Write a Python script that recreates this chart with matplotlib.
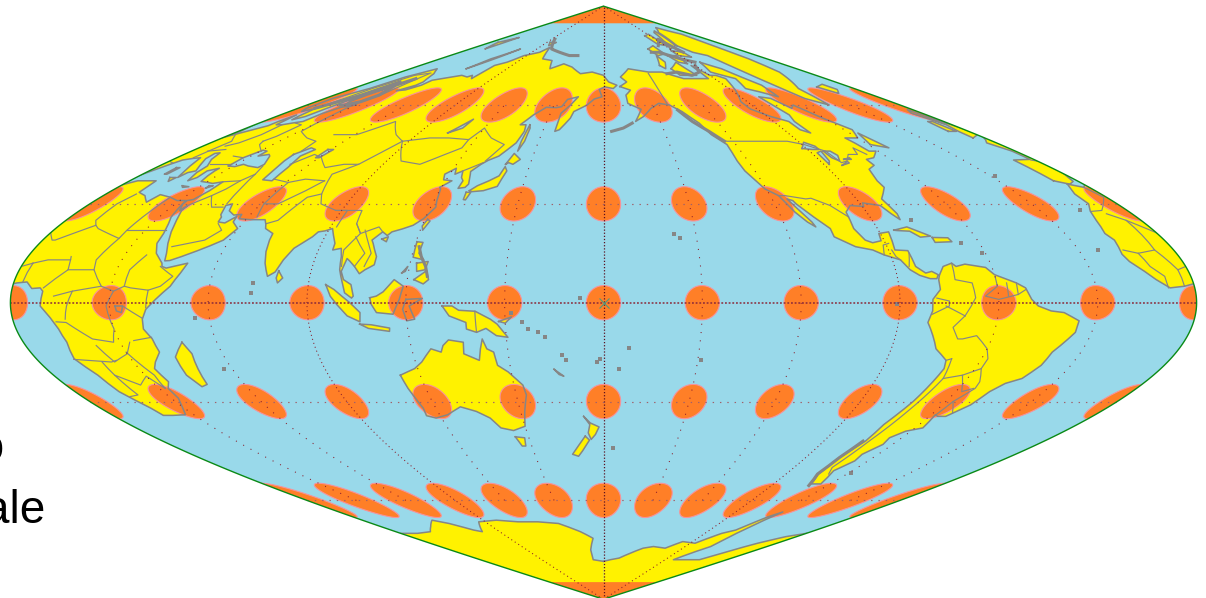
import numpy as np
import matplotlib
matplotlib.use("Agg")
import matplotlib.pyplot as plt
from matplotlib.patches import Polygon

# ---- land outlines, (lon, lat) in degrees ----
AFRICA = [(-6,36),(-2,35),(3,37),(10,37),(11,33.5),(15,32.5),(19,30.5),(20,32.8),(25,32),(29,31),(32.3,31),(32.5,30),(34,26),(35.5,24),(37,21),(37.5,18),(39.5,15),(43,12),(43.5,11),(45,10.5),(51,12),(50,9),(48,5),(44,1),(41,-2),(39.5,-5),(39,-8),(40.5,-11),(40.5,-15),(37,-18),(35,-20),(35.5,-24),(33,-26),(32.5,-29),(30,-31.5),(27,-34),(22,-34.2),(18.5,-34.2),(18,-32),(15,-27),(14.5,-22),(12,-17),(13.5,-12),(13,-8),(11.5,-4.5),(9,-1),(9.5,3.5),(8.5,4.5),(6,4.3),(4,6.3),(1,6),(-3,5),(-7.5,4.5),(-11,7),(-13.5,9.5),(-16.5,12.5),(-17.3,14.7),(-16,19),(-17,21),(-15,25),(-13,27.8),(-10,30),(-9.5,33)]
EURASIA = [(-9,37),(-6,36.2),(-5,36),(-2,36.8),(0,39),(3,42),(4.5,43.3),(7.5,43.8),(10,44),(12.5,41.5),(16,38),(16.5,39.5),(18.5,40),(16,41.7),(13,43.7),(12.3,45.3),(14,45.5),(16,43.5),(19.5,41.5),(20,39.5),(22,37),(23.5,38),(23,40),(26,40.8),(26,40),(26.5,38.5),(27.5,36.8),(30.5,36.5),(33,36.2),(36,36.7),(35.8,34),(34.3,31.3),(32.6,31),(32.6,30),(34.3,28),(35,29.5),(35,28),(37,25),(39,21.5),(41,18),(42.7,15),(43.5,12.7),(45,12.8),(48,14),(52,15.8),(55,17.3),(58,19),(59.8,22.5),(56.5,24.5),(56,26.2),(54,24.2),(51.5,24.5),(51,26),(50,26.7),(48.3,29.5),(50,30),(51.5,27.9),(54.5,26.6),(57,26.8),(57.5,25.5),(61.5,25.2),(66.5,25.2),(68,23.8),(69,22.5),(72.5,21),(72.8,19),(73.7,15.5),(75,12),(77,8),(79,9.3),(80.3,13),(82,16.5),(86,20),(87,21.5),(89,21.8),(91,22.5),(92.5,20.5),(94.3,18),(94.5,16),(97,16.5),(98,14),(98.7,10),(100.3,6),(101.3,3),(103.5,1.4),(104,2),(103,5.5),(100.5,7),(99.3,9.5),(100,13.4),(101,12.7),(103,11),(105,8.8),(106.5,10),(109,11.5),(109,14),(106.5,18),(105.7,19),(108,21.5),(110,20.4),(111,21.5),(114,22.4),(117,23.5),(119.5,25.5),(121.8,29),(121,31),(120,34.5),(119.3,35),(122.4,37),(119,37.3),(118,39),(121,40.8),(122,39),(124.3,40),(125.3,38),(126.6,37),(126.3,34.7),(128.7,35),(129.4,36),(128,39),(127.5,39.8),(130,42),(132,43.2),(135.5,44.5),(140,48.5),(141,52),(140,54),(137,54),(141,57),(146,59.3),(152,59.2),(155,59.5),(157,61.7),(163.5,62.5),(160,60),(156,57.5),(156,52),(158,52.5),(162,56),(163,58),(170,60),(174,61.8),(179,62.5),(177,64.7),(181,65.5),(187,65),(190,66),(184,67),(180,69),(170,70),(160,69.5),(150,71.5),(140,72.5),(130,71),(125,73.5),(113,74),(105,77.5),(100,76),(87,75),(80,73),(73,72),(73,68),(69,69),(67,68.5),(60,69),(54,68.5),(44,67.5),(44,66),(40,64.6),(35,64.3),(40,66),(40,67),(33,69.5),(25,71),(16,68.5),(12,65),(5,62),(5,59),(7,58),(10.5,59),(12,56.5),(13,55.5),(16,56.5),(17,59),(18,61),(21,64),(25,65.5),(22,63),(21,61),(23,60),(28,60.5),(30,60),(24,59.3),(21.5,57.5),(21,55),(18.5,54.7),(14,54),(11,54),(9,57),(8,55),(8,53.7),(4,52),(1.5,50.8),(-1.5,49.5),(-4.5,48.5),(-1.5,46),(-1.5,43.5),(-9,43.3)]
NORTH_AMERICA = [(-168,65.6),(-162,67),(-166,68.5),(-157,71),(-140,70),(-128,70),(-115,68),(-108,68),(-95,68),(-94,72),(-90,69),(-85,69),(-81,68),(-87,64.5),(-94,61),(-94,58.8),(-88,56.5),(-82,55),(-82,52.5),(-79,51.5),(-79,55),(-76.5,57),(-78,62.5),(-72,62),(-69,59),(-65,60),(-61,56),(-56,52.5),(-60,50),(-66,50),(-65,48.5),(-64,46),(-61,46),(-66,44),(-70,43.5),(-70,41.7),(-74,40.5),(-76,37),(-76,35),(-81,31.5),(-80,27),(-80.5,25.2),(-82,27),(-83.5,29.5),(-85,29.7),(-89,30.3),(-89.5,29.2),(-94,29.5),(-97,27.5),(-97.8,22.5),(-96,19),(-94,18.2),(-91,18.8),(-90.5,21),(-87,21.5),(-88,16),(-84,15.8),(-83.5,11),(-81,9),(-79,9.5),(-77.3,8.5),(-78,7.3),(-80,7.3),(-83,8.3),(-85.5,10),(-87.5,13),(-92,14.5),(-95,16),(-100,17),(-105.5,20),(-105.5,22.5),(-109,26),(-112.5,30),(-113,31),(-114.7,31.5),(-113,28.5),(-110.5,24.5),(-110,23),(-112,24.5),(-114.5,27.5),(-116,30.5),(-117,32.5),(-120.5,34.5),(-124,40),(-124.5,43),(-124,48),(-128,51),(-130,54.5),(-135,58),(-140,60),(-146,60.5),(-152,59),(-158,56.5),(-163,55),(-158,58.7),(-165,60.5),(-165,63),(-161,64.5)]
SOUTH_AMERICA = [(-77,8.3),(-75,11),(-72,12),(-71,11),(-68,11.7),(-62,10.7),(-60,8.5),(-54,6),(-51.5,4.5),(-50,1),(-48,-1),(-44,-2.5),(-40,-3),(-35,-5.5),(-35,-9),(-39,-15),(-39.5,-19),(-42,-23),(-46,-24.5),(-48.5,-27),(-50,-31),(-54,-34.5),(-57,-34.5),(-58.5,-34),(-57,-38),(-62,-39),(-65,-41),(-64,-43),(-67,-46),(-66,-48),(-69,-51),(-65,-55),(-70,-55),(-74,-52),(-75,-47),(-73,-42),(-73.5,-37),(-71.5,-30),(-70,-20),(-71,-17.5),(-76,-14),(-81,-6),(-80,-2.5),(-80,1),(-77.5,4),(-77.5,7)]
AUSTRALIA = [(113.5,-22),(114,-26),(115.5,-32),(115,-34.3),(118,-35),(123,-34),(129,-31.6),(134,-33),(138,-35),(140.5,-38),(145,-38.8),(150,-37.5),(151.5,-33),(153.5,-28),(153,-25),(149,-21),(146,-19),(145.5,-15),(143.5,-14),(142.5,-11),(141.5,-14),(140.5,-17.5),(136,-15.5),(136.5,-12),(132,-11.3),(130,-13),(129,-15),(126,-14),(122,-18),(119,-20)]
ISLANDS = [
    [(172.7,-34.5),(175,-36.5),(178.3,-37.7),(176.8,-40),(175,-41.5),(174,-39.5),(174.8,-37)],
    [(172.7,-40.5),(174.3,-41.7),(171,-45),(169,-46.6),(166.5,-46),(170,-43)],
    [(144.7,-40.7),(148.3,-41),(147.5,-43.5),(146,-43.5)],
    [(131,-1),(134,-1),(136,-2.3),(141,-2.6),(145.5,-5),(147.5,-6.5),(150.5,-10.5),(147,-10),(144,-7.8),(141,-9),(138,-8),(138,-6),(133,-4)],
    [(109,1.5),(111,2),(113,3.3),(116,7),(119,5),(118,1),(116,-3.5),(111,-3),(109.5,-0.5)],
    [(95.3,5.5),(98,4),(103,0),(106,-3),(105.7,-5.8),(102,-4),(99,-0.5),(97,2)],
    [(105.5,-6.5),(109,-6.7),(114.5,-7.7),(114.3,-8.7),(108,-7.8)],
    [(120,1),(125,1.3),(121,-1),(122.5,-5),(120,-5.5),(119,-2)],
    [(120.3,18.5),(122.3,18.3),(122,15),(124,13),(120.5,13.8)],
    [(122,7),(125.5,9.7),(126.5,7),(125,5.7)],
    [(122,12),(125.5,12.5),(125,10),(122.5,9.5)],
    [(118,9),(119.5,11),(119,9.5)],
    [(121,25.3),(122,24.8),(120.8,22),(120.1,23.3)],
    [(108.7,19.3),(110.5,20),(110.5,18.5)],
    [(130.9,34),(133,35.5),(136.5,37),(139.5,38.5),(140.3,41.3),(141.7,40),(141,37.5),(140.5,35.3),(136,34),(132,33.7)],
    [(130,33.5),(131.7,33.5),(131,31.2),(130.2,31.3)],
    [(140,42),(141.5,45.3),(145.2,43.5),(143,42),(141,42.5)],
    [(142,54),(143,53),(143.5,49),(142.5,46),(142,49)],
    [(80,9.7),(81.8,7.5),(80.5,6),(79.8,7.5)],
    [(49.2,-12),(50.4,-15.5),(47.5,-24.8),(45,-25.5),(43.5,-22),(44.5,-16.5)],
    [(-5.5,50),(1.5,51.2),(0,53.5),(-2,56),(-3,58.6),(-6,57.5),(-3,54),(-5,52)],
    [(-10,52),(-6,52),(-6,55),(-8.5,55)],
    [(-24,65.5),(-15,66.3),(-14,64.7),(-20,63.5)],
    [(-85,22),(-80,23),(-74.2,20.2),(-77.7,19.9),(-80,21.7),(-84,21.9)],
    [(-74,19.8),(-69,19.7),(-68.5,18.5),(-74,18.3)],
    [(52,71),(68,77),(56,74)],
    [(12,79),(25,80.5),(20,77)],
    [(95,79),(105,79),(100,78)],
    [(164,-20.2),(167,-22.3),(165.5,-21.8)],
    [(-73,78),(-60,82),(-40,83.5),(-20,81.5),(-20,74),(-24,70),(-40,65),(-43,60),(-50,62),(-54,68),(-58,75),(-68,76)],
    [(-80,73),(-70,71),(-62,66),(-65,62.5),(-72,64),(-78,65),(-73,68),(-85,70)],
    [(-117,71),(-105,73),(-101,69),(-115,69)],
    [(-90,77),(-70,82),(-62,82.5),(-75,78)],
    [(-125,72),(-118,75),(-116,73),(-122,71)],
    [(-59,48),(-56,51.5),(-53,47)],
    [(-105,75),(-95,75),(-95,72.5),(-102,73)],
    [(-92,76.5),(-80,76),(-80,74.5),(-92,75)],
    [(-120,77),(-108,78),(-106,75.5),(-116,75)],
    [(-100,81),(-88,81.5),(-88,78),(-98,78.5)],
    [(148,-5.7),(152,-4.3),(150,-6.2)],
    [(23,35.5),(26,35.2),(24,35)],
    [(33,35.5),(34.5,35.5),(33,34.7)],
    [(13,38),(15.5,38),(15,36.8)],
    [(8.3,41),(9.7,41),(9.5,39),(8.5,39)],
]
ANTARCTICA_COAST = [(-180,-78.5),(-170,-78),(-158,-77.5),(-150,-76.5),(-135,-74.5),(-125,-74),(-110,-74.5),(-100,-72.5),(-85,-73),(-75,-70),(-68,-69),(-62,-65),(-58,-63.5),(-60,-66),(-62,-70),(-62,-74),(-70,-76),(-78,-78),(-60,-78),(-40,-78),(-35,-77),(-20,-73),(-10,-71),(0,-70),(15,-70),(30,-69.5),(40,-68),(52,-66),(60,-67),(70,-69),(75,-69.5),(85,-66.5),(100,-66),(115,-66.5),(130,-66.5),(145,-67),(160,-69.5),(170,-71.5),(165,-75),(165,-78),(180,-78.5)]
WATER = [
    [(28,41.5),(28,44),(30.5,46.3),(33,46),(33,44.5),(36.5,45),(38,44.5),(41.5,42),(41,41),(36,41.5),(33,42),(31,41.3)],
    [(47,45),(50,47),(53,46.5),(51,44.5),(53,41),(54,37),(50,37.3),(49,40),(47.5,43)],
    [(-92,46.8),(-88,48.7),(-85,47.5),(-85,46.5),(-88,46.5)],
    [(-87.8,42),(-87.5,45.5),(-85,46),(-86.3,43)],
    [(-84,46),(-81,46),(-80,44.7),(-82,43),(-83.7,44)],
    [(-83,41.7),(-79,42.9),(-79,42.4)],
    [(-79.5,43.5),(-76.3,44),(-76.3,43.5)],
    [(104,51.5),(110,55.7),(109,53)],
    [(58.5,46.5),(61,46.5),(60,44),(58.5,44)],
    [(31.7,-1),(34,-1),(33.5,-3),(32,-2.5)],
]
BORDERS = [
    [(-141,69.6),(-141,60.3)],
    [(-123,49),(-95,49),(-89,48),(-83,46),(-82,42.5),(-79,43),(-75,45),(-71,45),(-69,47),(-67,45)],
    [(-117,32.5),(-114.7,32.5),(-108,31.5),(-106,31.7),(-101,29.5),(-97.2,26)],
    [(-92,14.5),(-91,17.5),(-89,18)],[(-89,16),(-88.5,14),(-87.5,13)],[(-84,15),(-85.5,11)],
    [(-72,12),(-72.5,7),(-67.5,6),(-67,1.5),(-70,-4)],[(-80,-3.5),(-75,-1),(-75,0.5),(-78.8,1.4)],
    [(-70,-4),(-73,-7.5),(-70.5,-11),(-69,-11),(-65,-10),(-60,-14),(-58,-17),(-58,-20)],
    [(-69.5,-17),(-68,-23),(-70,-33),(-71.5,-42),(-72,-50),(-69,-52)],
    [(-68,-23),(-62.5,-22),(-58,-27),(-55,-26)],[(-62.5,-22),(-58,-20),(-55,-24),(-54.5,-26),(-57.5,-30),(-53,-33.5)],[(-57.5,-30),(-58.3,-34)],
    [(-60,8),(-60,5),(-64,2),(-60,1),(-54,2.5),(-54,6)],[(-57,6),(-57,2)],[(-51.5,4),(-54,2.5)],[(-76,-1),(-70,-4)],[(-69.5,-17),(-71,-17.5)],
    [(-2,35),(-1,32),(-8.7,28),(-13,27.7)],[(-8.7,27),(-5,25),(-6,16),(-12,15),(-16,16)],[(-5,25),(3,19),(4,19),(12,23.5)],
    [(11,33),(9.5,30),(10,25),(12,23.5),(14,22.5),(24,19.5),(24,22),(25,32)],[(24,22),(36.8,22)],[(24,19.5),(22,13),(23,10)],
    [(3,12),(7,13),(14,13),(13.5,14)],[(3,12),(2.7,6.3)],[(14,13),(15,10),(9.5,4.5)],[(15,10),(23,10),(27,5)],
    [(13,-5.8),(16,-6),(22,-11),(28,-12),(30,-8),(29,-1),(31,3.5),(27,5),(18.5,3.5),(17,-1),(16,-5)],
    [(36.8,14.5),(34,10),(34,5),(36,4.5),(41.5,3.8),(41,-1.5)],[(43,11),(48,8),(45,5),(41.5,3.8)],[(34,5),(31,3.5)],[(34,-1),(39.5,-4.7)],[(34.5,-11.5),(40.5,-10.5)],
    [(30,-15),(33,-22),(32,-26)],[(11.7,-17.2),(23,-18),(25,-17.5)],[(16.5,-28.5),(20,-28),(20,-22),(25,-25),(30,-22.3),(32,-26)],[(22,-13),(24,-18),(30,-15.5),(33,-12)],
    [(-12,15),(-11,11),(-8,8),(-8,4.5)],[(-6,16),(-3,10),(-3,5)],[(-3,10),(3,12)],[(13,2),(18.5,3.5)],[(20,-18),(20,-22)],
    [(28,60),(31,52),(40,50),(47,49),(48,46)],[(50,51),(61,51),(70,55),(80,51),(87,49),(98,50),(107,50),(117,49.5),(120,53),(127,50),(135,48),(131,43)],
    [(87,49),(96,43),(105,42),(112,45),(117,47),(117,49.5)],[(87,49),(80,42),(74,39),(78,33),(81,30),(88,28),(97,28),(98,24),(101,21),(106,23),(108,21.5)],
    [(68,24),(71,25),(74,32),(78,33)],[(44,39),(46,35),(48,30)],[(61,36.5),(61,30),(63,26)],[(61,30),(66,30),(71,34),(74,37)],[(54,37.5),(61,36.5),(66,37.5),(74,37)],
    [(52,42),(56,45),(61,44),(68,41),(74,42),(80,42)],[(35,29.5),(39,32.5),(44,29),(48,29)],[(43,17),(52,19),(55,22),(52,24)],[(36,36.7),(42,37),(44,39),(42,41.5)],[(39,32.5),(41,34.5),(42,37)],
    [(98,24),(101,21),(98,16),(99,11)],[(102,22),(105,18),(107,15),(106,11)],[(100,20),(105,15),(103,11)],[(124.3,40),(130.5,42.5)],[(88,28),(92,28),(92,23)],
    [(-1.8,43.3),(3,42.4)],[(2.5,51),(8,49),(7,44)],[(14,54),(15,51),(13,48.5),(10,47.5)],[(7,46),(13.5,46.5)],[(19,54.5),(24,54),(24,50.5),(22.5,49)],[(30.5,46),(24,48),(22.5,49)],
    [(28,60.5),(31,63),(29,69.5)],[(11,59),(14,65),(20,69),(29,69.7)],[(19.5,42),(23,42),(28,42)],[(22.5,44.5),(28,44)],[(140.9,-2.6),(141,-9)],
]
COAST_SHOALS = [
    [(-74,-42),(-75,-47),(-74.5,-52),(-70,-55.5)],
    [(-176,52),(-170,53),(-165,54.5)],
    [(-124,49),(-128,52),(-133,55),(-137,58.5)],
    [(-85,73),(-95,74),(-110,76),(-120,76)],
    [(-125,69.5),(-115,70),(-105,69),(-95,70),(-90,72)],
    [(20,60),(23,60),(28,61),(30,63),(25,66),(28,68)],
    [(10,59),(14,61),(18,63),(22,67)],
    [(95,80),(110,77),(140,75),(150,75)],
    [(-100,78),(-85,80),(-80,76)],
    [(121.5,17),(123,14),(125,11),(126,8)],
]
ISLETS_LON = [157,160,162,155,167,168,178,179,-155.5,-157,-91,-59,-16,-28,-24,-77,55.5,57.5,-172,-149,173,152,73,73,-61,-66,-176,-175]
ISLETS_LAT = [-8,-9,-10.5,-6,-16,-17.5,-18,-17,19.5,21,-0.5,-51.7,28.2,38.5,16,25,-4.6,-20,-13.7,-17.5,1.3,-3,3,6,15,18,-44,-20]

MERIDIANS = [-150,-120,-60,-30,30,60,120,150]
MAIN_MERIDIANS = [-90,90]
MERIDIAN_STOP = 60
PARALLELS = [-60,-30,30,60]
CIRCLE_LATS = [-60,-30,0,30,60]
CIRCLE_LONS = list(range(-180,181,30))
CIRCLE_RADIUS = 5.2
TEXT_LINES = ["to","scale"]

# ---- styles ----
OCEAN="#99D9EA"; LAND="#FFF200"; ORANGE="#FF7F27"; PINK="#F7929A"
GRAY="#868686"; GREEN="#0A8A16"; DOT="#8A1C2A"
PX=3.295; CX=603.5; CY=302.7; W,H=1206,598

fig=plt.figure(figsize=(W/100,H/100),dpi=100)
ax=fig.add_axes([0,0,1,1]); ax.axis("off")
ax.set_xlim(-CX/PX,(W-CX)/PX); ax.set_ylim(-(H-CY)/PX,CY/PX)

def densify(pts,closed=False,step=2.0):
    pts=list(pts)+([pts[0]] if closed else [])
    lo,la=[],[]
    for (a,b),(c,d) in zip(pts[:-1],pts[1:]):
        n=max(1,int(max(abs(c-a),abs(d-b))/step))
        t=np.arange(n)/n
        lo.extend(a+(c-a)*t); la.extend(b+(d-b)*t)
    lo.append(pts[-1][0]); la.append(pts[-1][1])
    return np.array(lo),np.array(la)

def proj(dlon,lat):
    return np.column_stack([dlon*np.cos(np.radians(lat)),lat])

SHIFTS=(-360,0,360)
lat_o=np.linspace(-90,90,361)
outline_xy=np.vstack([proj(np.full_like(lat_o,180.0),lat_o),proj(np.full_like(lat_o,-180.0),lat_o)[::-1]])
ocean=Polygon(outline_xy,closed=True,fc=OCEAN,ec="none",zorder=1); ax.add_patch(ocean)

def clip(a): a.set_clip_path(ocean); return a

def fill(pts,color,z):
    lo,la=densify(pts,closed=True)
    for s in SHIFTS:
        xy=proj(lo-180+s,la)
        ax.add_patch(clip(Polygon(xy,closed=True,fc=color,ec="none",zorder=z)))

def line(pts,closed,lw,z,color=GRAY):
    lo,la=densify(pts,closed=closed)
    for s in SHIFTS:
        xy=proj(lo-180+s,la)
        l,=ax.plot(xy[:,0],xy[:,1],color=color,lw=lw,zorder=z,solid_joinstyle="round")
        clip(l)

LANDS=[AFRICA,EURASIA,NORTH_AMERICA,SOUTH_AMERICA,AUSTRALIA]+ISLANDS
for p in LANDS:
    fill(p,LAND,2)
fill(ANTARCTICA_COAST+[(180,-90),(-180,-90)],LAND,2)
for p in WATER:
    fill(p,OCEAN,2.5)

# Tissot circles
def circle(lat0,lon0,r):
    th=np.linspace(0,2*np.pi,121); d=np.radians(r); p0=np.radians(lat0)
    lat=np.arcsin(np.sin(p0)*np.cos(d)+np.cos(p0)*np.sin(d)*np.cos(th))
    dl=np.arctan2(np.sin(th)*np.sin(d)*np.cos(p0),np.cos(d)-np.sin(p0)*np.sin(lat))
    return proj(lon0+np.degrees(dl),np.degrees(lat))
for la0 in CIRCLE_LATS:
    for lo0 in CIRCLE_LONS:
        ax.add_patch(clip(Polygon(circle(la0,lo0,CIRCLE_RADIUS),closed=True,fc=ORANGE,ec=PINK,lw=0.8,zorder=3)))
d=np.linspace(-180,180,181)
for sgn in (1,-1):
    cap=np.vstack([proj(d,np.full_like(d,sgn*(90-CIRCLE_RADIUS))),[[0,sgn*90]]])
    ax.add_patch(clip(Polygon(cap,closed=True,fc=ORANGE,ec="none",zorder=3)))

# coast lines and borders
for p in LANDS+WATER:
    line(p,True,1.1,4)
line(ANTARCTICA_COAST,False,1.1,4)
for p in BORDERS:
    line(p,False,0.85,4)
for p in COAST_SHOALS:
    line(p,False,2.2,4)
for s in SHIFTS:
    xy=proj(np.array(ISLETS_LON,float)-180+s,np.array(ISLETS_LAT,float))
    clip(ax.scatter(xy[:,0],xy[:,1],s=5,marker="s",color=GRAY,linewidths=0,zorder=4))

# graticule
lat_g=np.linspace(-90,90,361)
lat_s=np.linspace(-MERIDIAN_STOP,MERIDIAN_STOP,241)
for m in MERIDIANS:
    xy=proj(np.full_like(lat_s,float(m)),lat_s)
    ax.plot(xy[:,0],xy[:,1],color=DOT,lw=0.75,ls=(0,(1,7)),zorder=5)
for m in MAIN_MERIDIANS:
    xy=proj(np.full_like(lat_g,float(m)),lat_g)
    ax.plot(xy[:,0],xy[:,1],color=DOT,lw=0.75,ls=(0,(1,3)),zorder=5)
ax.plot(np.zeros_like(lat_g),lat_g,color="#5A1020",lw=0.9,ls=(0,(1,1.5)),zorder=5)
for p_ in PARALLELS:
    xy=proj(np.linspace(-180,180,361),np.full(361,float(p_)))
    ax.plot(xy[:,0],xy[:,1],color="#A0606A",lw=0.85,ls=(0,(1.2,5)),zorder=5)
ax.plot([-180,180],[0,0],color="#8A2A3A",lw=1.1,ls=(0,(1.2,1.2)),zorder=5)
ax.plot([0],[0],marker="x",ms=7,mew=0.8,color="#4F9A80",zorder=6)

# outline
ax.add_patch(Polygon(outline_xy,closed=True,fc="none",ec=GREEN,lw=1.0,zorder=7))

# text running off the left edge, as in the reference
fig.text(4/W,1-461/H,TEXT_LINES[0],ha="right",va="baseline",fontsize=33,family="Liberation Sans",color="black")
fig.text(46/W,1-523/H,TEXT_LINES[1],ha="right",va="baseline",fontsize=33,family="Liberation Sans",color="black")

fig.savefig("out.png",dpi=100)
